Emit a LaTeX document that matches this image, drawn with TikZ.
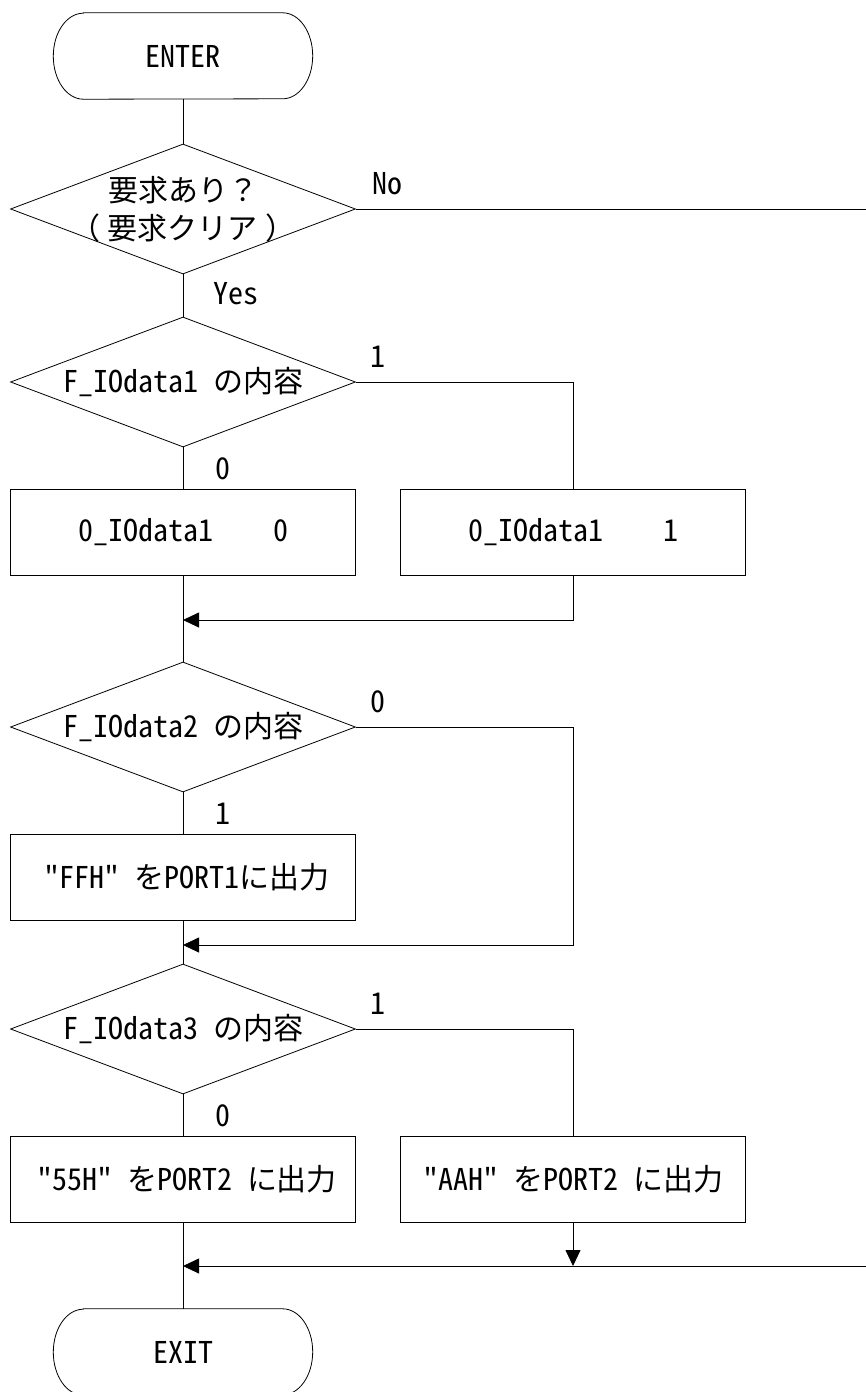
\documentclass[tikz,border=0pt]{standalone}
\usepackage{fontspec}
\setmainfont{Noto Sans CJK JP}[RawFeature=+hwid,Ligatures=TeXOff]
\newfontfamily\jp{Noto Sans CJK JP}
\usetikzlibrary{shapes.geometric,arrows.meta,calc}
\newcommand\fsz{\fontsize{30pt}{38pt}\selectfont}

\tikzset{
  flow/.style={line width=0.8pt},
  arr/.style={flow,-{Triangle[length=16pt,width=15pt]}},
  decision/.style={diamond,draw,line width=0.8pt,minimum width=345pt,minimum height=130pt},
  process/.style={rectangle,draw,line width=0.8pt,minimum width=345pt,minimum height=86pt},
  term/.style={rectangle,minimum width=259pt,minimum height=86pt},
  jplabel/.style={align=center,font=\jp\fsz}
}

\begin{document}
\begin{tikzpicture}[x=1pt,y=1pt]
\tikzstyle{every node}+=[inner sep=0pt,font=\fsz]
\useasboundingbox (0,0) rectangle (866,-1392);
% boxes
\node[term] (enter) at (183,-56) {ENTER};
\node[decision,label={[jplabel]center:要求あり？\\（\kern8pt 要求クリア\kern8pt ）}] (q1) at (183,-209) {};
\node[decision,label={center:F\_IOdata1\hspace{15pt}{\jp の内容}}] (q2) at (183,-382) {};
\node[process] (p1) at (183,-532) {0\_IOdata1\hspace{60pt}0};
\node[process] (p2) at (573,-532) {0\_IOdata1\hspace{60pt}1};
\node[decision,label={center:F\_IOdata2\hspace{15pt}{\jp の内容}}] (q3) at (183,-727) {};
\node[process] (p3) at (183,-877) {\hspace{8pt}"FFH"\hspace{15pt}{\jp を}PORT1{\jp に出力}};
\node[decision,label={center:F\_IOdata3\hspace{15pt}{\jp の内容}}] (q4) at (183,-1029) {};
\node[process] (p4) at (183,-1179) {\hspace{8pt}"55H"\hspace{15pt}{\jp を}PORT2\hspace{15pt}{\jp に出力}};
\node[process] (p5) at (573,-1179) {"AAH"\hspace{15pt}{\jp を}PORT2\hspace{15pt}{\jp に出力}};
\node[term] (exit) at (183,-1352) {EXIT};
% rounded ends of the terminals
\foreach \t in {enter,exit}
  \draw[flow] ([xshift=30pt]\t.north west) -- ([xshift=-30pt]\t.north east)
    arc[start angle=90,end angle=-90,x radius=30pt,y radius=43pt]
    -- ([xshift=30pt]\t.south west)
    arc[start angle=270,end angle=90,x radius=30pt,y radius=43pt] -- cycle;
% branch labels
\node[anchor=south west] (lno) at ([xshift=16pt,yshift=14pt]q1.east) {No};
\node[anchor=north west] (lyes) at ([xshift=30pt,yshift=-8pt]q1.south) {Yes};
\node[anchor=south west] (l21) at ([xshift=14pt,yshift=14pt]q2.east) {1};
\node[anchor=north west] (l20) at ([xshift=32pt,yshift=-10pt]q2.south) {0};
\node[anchor=south west] (l30) at ([xshift=14pt,yshift=14pt]q3.east) {0};
\node[anchor=north west] (l31) at ([xshift=32pt,yshift=-10pt]q3.south) {1};
\node[anchor=south west] (l41) at ([xshift=14pt,yshift=14pt]q4.east) {1};
\node[anchor=north west] (l40) at ([xshift=32pt,yshift=-10pt]q4.south) {0};
% joins
\coordinate (m1) at (183,-620);
\coordinate (m2) at (183,-945);
\coordinate (c2) at (573,-945);
\coordinate (m3) at (183,-1266);
\coordinate (c3) at (573,-1266);
\coordinate (noR) at (866,-209);
\coordinate (inR) at (866,-1266);
% lines
\draw[flow] (enter.south) -- (q1.north);
\draw[flow] (q1.south) -- (q2.north);
\draw[flow] (q1.east) -- (noR);
\draw[flow] (q2.south) -- (p1.north);
\draw[flow] (q2.east) -| (p2.north);
\draw[flow] (p1.south) -- (q3.north);
\draw[arr] (p2.south) |- (m1);
\draw[flow] (q3.south) -- (p3.north);
\draw[arr] (q3.east) -| (c2) -- (m2);
\draw[flow] (p3.south) -- (q4.north);
\draw[flow] (q4.south) -- (p4.north);
\draw[flow] (q4.east) -| (p5.north);
\draw[arr] (p5.south) -- (c3);
\draw[arr] (inR) -- (m3);
\draw[flow] (p4.south) -- (exit.north);
\end{tikzpicture}
\end{document}
